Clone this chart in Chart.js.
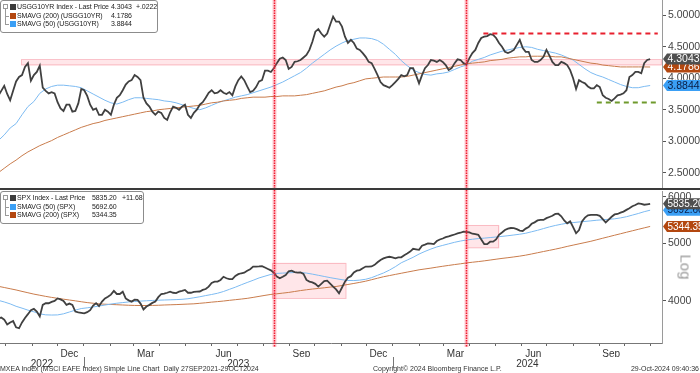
<!DOCTYPE html>
<html>
<head>
    <title>USGG10YR / SPX</title>
    <meta charset="utf-8">
    <script src="https://cdn.jsdelivr.net/npm/chart.js@4.4.0/dist/chart.umd.min.js"></script>
    <style>
        body { margin: 0; background: #fff; font-family: "Liberation Sans", Arial, sans-serif; }
        #wrap { position: relative; width: 700px; height: 373px; overflow: hidden; }
        #topBox { position: absolute; left: 0; top: 0; width: 700px; height: 188px; }
        #botBox { position: absolute; left: 0; top: 190px; width: 700px; height: 183px; }
        .sep { position: absolute; left: 0; top: 188px; width: 700px; height: 2px; background: #3a3a3a; }
        .legend { position: absolute; left: 0; background: #fff; border: 1px solid #8c8c8c; border-radius: 3px;
                  font-size: 7px; color: #222; letter-spacing: -0.1px; }
        .legend span { position: absolute; white-space: nowrap; line-height: 8px; }
        .legend .sw { width: 6px; height: 6px; left: 9px; }
        .tree { position: absolute; border-color: #999; border-style: solid; }
        .foot { position: absolute; top: 365px; font-size: 7px; color: #333; white-space: nowrap; }
        #logLbl { position: absolute; left: 686px; top: 267px; font-size: 15px; color: #9a9a9a;
                  transform: translate(-50%, -50%) rotate(90deg); }
    </style>
</head>
<body>
<div id="wrap">
    <div id="topBox"><canvas id="topChart"></canvas></div>
    <div id="botBox"><canvas id="botChart"></canvas></div>
    <div class="sep"></div>
    <div class="legend" id="topLegend" style="top:0;width:156px;height:31px"></div>
    <div class="legend" id="botLegend" style="top:191px;width:142px;height:31px"></div>
    <div id="logLbl">Log</div>
    <div class="foot" style="left:0">MXEA Index (MSCI EAFE Index) Simple Line Chart&nbsp; Daily 27SEP2021-29OCT2024</div>
    <div class="foot" style="left:373px">Copyright© 2024 Bloomberg Finance L.P.</div>
    <div class="foot" style="right:1px">29-Oct-2024 09:40:36</div>
</div>
<script>
    // prices sampled every half week, moving averages every week, both from 22 Sep 2022
    const firstDate = '2022-09-22';
    const priceStep = 3.5, avgStep = 7;

    const usgg = [3.72, 3.80, 3.88, 3.75, 3.65, 3.80, 3.95, 4.02, 4.05, 4.18,
        4.24, 3.96, 4.05, 4.10, 4.20, 3.85, 3.80, 3.76, 3.78, 3.76,
        3.62, 3.52, 3.48, 3.58, 3.58, 3.47, 3.48, 3.60, 3.83, 3.81,
        3.72, 3.58, 3.50, 3.52, 3.42, 3.42, 3.50, 3.47, 3.42, 3.58,
        3.69, 3.73, 3.81, 3.90, 3.95, 3.97, 4.05, 4.02, 3.97, 3.69,
        3.60, 3.55, 3.47, 3.42, 3.47, 3.45, 3.37, 3.34, 3.46, 3.55,
        3.53, 3.50, 3.55, 3.58, 3.42, 3.37, 3.45, 3.50, 3.58, 3.62,
        3.69, 3.77, 3.81, 3.76, 3.77, 3.81, 3.77, 3.75, 3.78, 3.73,
        3.87, 3.97, 4.03, 3.97, 3.87, 3.78, 3.80, 3.86, 3.95, 3.97,
        4.12, 4.12, 4.10, 4.16, 4.24, 4.31, 4.33, 4.29, 4.15, 4.18,
        4.26, 4.27, 4.29, 4.33, 4.37, 4.45, 4.58, 4.74, 4.78, 4.71,
        4.66, 4.71, 4.85, 4.98, 4.90, 4.90, 4.82, 4.66, 4.56, 4.61,
        4.56, 4.47, 4.45, 4.40, 4.34, 4.26, 4.24, 4.15, 4.05, 3.94,
        3.89, 3.87, 3.85, 3.89, 3.94, 3.99, 4.05, 4.03, 4.05, 4.16,
        4.16, 4.05, 3.92, 4.05, 4.16, 4.21, 4.29, 4.28, 4.26, 4.29,
        4.26, 4.21, 4.13, 4.16, 4.24, 4.30, 4.29, 4.24, 4.22, 4.32,
        4.40, 4.45, 4.56, 4.64, 4.66, 4.67, 4.70, 4.69, 4.64, 4.56,
        4.50, 4.42, 4.40, 4.42, 4.45, 4.53, 4.61, 4.48, 4.42, 4.42,
        4.29, 4.26, 4.26, 4.29, 4.34, 4.45, 4.36, 4.26, 4.21, 4.21,
        4.26, 4.24, 4.21, 4.13, 4.00, 3.83, 3.97, 3.94, 3.92, 3.87,
        3.84, 3.84, 3.89, 3.86, 3.73, 3.69, 3.67, 3.64, 3.68, 3.73,
        3.74, 3.76, 3.81, 4.02, 4.05, 4.10, 4.10, 4.08, 4.24, 4.29,
        4.3043];
    const usggMa200 = [2.50, 2.57, 2.64, 2.70, 2.77, 2.83, 2.88, 2.93, 2.97, 3.01,
        3.06, 3.10, 3.14, 3.18, 3.22, 3.25, 3.28, 3.30, 3.33, 3.35,
        3.37, 3.39, 3.41, 3.43, 3.45, 3.47, 3.48, 3.50, 3.51, 3.52,
        3.53, 3.54, 3.55, 3.56, 3.57, 3.59, 3.61, 3.62, 3.64, 3.65,
        3.66, 3.68, 3.69, 3.70, 3.70, 3.70, 3.71, 3.71, 3.72, 3.72,
        3.72, 3.73, 3.74, 3.76, 3.78, 3.80, 3.83, 3.86, 3.88, 3.91,
        3.93, 3.96, 3.99, 4.00, 4.01, 4.02, 4.02, 4.02, 4.02, 4.03,
        4.05, 4.07, 4.09, 4.11, 4.13, 4.15, 4.17, 4.19, 4.21, 4.23,
        4.24, 4.25, 4.26, 4.28, 4.29, 4.30, 4.32, 4.33, 4.34, 4.34,
        4.35, 4.35, 4.35, 4.35, 4.34, 4.34, 4.32, 4.30, 4.28, 4.26,
        4.24, 4.23, 4.21, 4.20, 4.19, 4.18, 4.18, 4.18, 4.18, 4.18,
        4.1786];
    const usggMa50 = [3.01, 3.10, 3.21, 3.28, 3.42, 3.55, 3.63, 3.76, 3.83, 3.87,
        3.89, 3.89, 3.88, 3.87, 3.85, 3.80, 3.75, 3.70, 3.65, 3.61,
        3.59, 3.62, 3.66, 3.69, 3.69, 3.68, 3.67, 3.66, 3.64, 3.63,
        3.61, 3.58, 3.55, 3.52, 3.50, 3.53, 3.57, 3.61, 3.64, 3.67,
        3.70, 3.72, 3.74, 3.77, 3.80, 3.83, 3.86, 3.90, 3.94, 3.99,
        4.04, 4.09, 4.16, 4.24, 4.31, 4.38, 4.45, 4.51, 4.56, 4.60,
        4.62, 4.64, 4.64, 4.63, 4.60, 4.54, 4.46, 4.38, 4.28, 4.20,
        4.13, 4.09, 4.06, 4.05, 4.07, 4.08, 4.10, 4.14, 4.18, 4.21,
        4.27, 4.30, 4.33, 4.37, 4.40, 4.43, 4.45, 4.47, 4.49, 4.50,
        4.49, 4.46, 4.44, 4.42, 4.40, 4.37, 4.33, 4.29, 4.22, 4.15,
        4.09, 4.05, 4.02, 3.98, 3.94, 3.90, 3.87, 3.85, 3.85, 3.87,
        3.8844];

    const spx = [3740, 3750, 3720, 3650, 3680, 3700, 3610, 3597, 3680, 3745,
        3800, 3860, 3880, 3838, 3765, 3940, 3965, 3965, 3985, 4000,
        4040, 4025, 4000, 3940, 3960, 3940, 3838, 3825, 3820, 3813,
        3830, 3860, 3930, 3965, 3920, 3990, 4040, 4066, 4100, 4160,
        4110, 4110, 4147, 4040, 4010, 3990, 4020, 4016, 3960, 3870,
        3915, 3940, 3970, 3990, 4060, 4110, 4115, 4130, 4147, 4130,
        4125, 4147, 4160, 4175, 4130, 4130, 4145, 4147, 4150, 4175,
        4190, 4230, 4290, 4312, 4312, 4341, 4395, 4369, 4355, 4355,
        4410, 4440, 4455, 4465, 4500, 4526, 4573, 4573, 4575, 4580,
        4555, 4530, 4505, 4465, 4400, 4369, 4395, 4426, 4490, 4500,
        4475, 4465, 4470, 4445, 4341, 4312, 4300, 4275, 4230, 4275,
        4320, 4329, 4280, 4230, 4185, 4120, 4215, 4312, 4380, 4405,
        4470, 4500, 4510, 4543, 4573, 4573, 4575, 4603, 4650, 4692,
        4720, 4740, 4750, 4740, 4720, 4740, 4740, 4780, 4810, 4846,
        4900, 4890, 4880, 4960, 4980, 5004, 5000, 4990, 5050, 5080,
        5100, 5125, 5140, 5160, 5180, 5200, 5215, 5239, 5230, 5222,
        5195, 5185, 5172, 5080, 4990, 4990, 5037, 5037, 5080, 5172,
        5220, 5272, 5300, 5312, 5310, 5290, 5260, 5250, 5300, 5330,
        5400, 5430, 5470, 5481, 5481, 5520, 5545, 5570, 5610, 5615,
        5560, 5470, 5410, 5450, 5330, 5205, 5270, 5450, 5530, 5580,
        5589, 5589, 5590, 5570, 5500, 5430, 5490, 5550, 5600, 5610,
        5640, 5662, 5700, 5736, 5780, 5810, 5845, 5835, 5815, 5825,
        5835.20];
    const spxMa50 = [4010, 3985, 3955, 3918, 3890, 3860, 3835, 3805, 3790, 3787,
        3789, 3805, 3832, 3860, 3884, 3895, 3908, 3922, 3937, 3952,
        3965, 3975, 3985, 3992, 3998, 4003, 4008, 4012, 4015, 4018,
        4021, 4026, 4035, 4050, 4066, 4085, 4102, 4122, 4150, 4185,
        4220, 4260, 4298, 4335, 4375, 4405, 4435, 4452, 4458, 4463,
        4468, 4470, 4458, 4440, 4420, 4400, 4380, 4362, 4345, 4332,
        4330, 4338, 4352, 4380, 4420, 4460, 4510, 4570, 4640, 4690,
        4740, 4800, 4850, 4895, 4935, 4965, 4995, 5025, 5050, 5070,
        5085, 5098, 5107, 5118, 5130, 5142, 5155, 5170, 5185, 5205,
        5235, 5265, 5300, 5335, 5365, 5390, 5412, 5425, 5438, 5450,
        5462, 5475, 5485, 5495, 5505, 5525, 5550, 5585, 5620, 5660,
        5692.60];
    const spxMa200 = [4235, 4215, 4195, 4175, 4152, 4130, 4108, 4090, 4072, 4056,
        4042, 4028, 4015, 4002, 3988, 3975, 3965, 3955, 3950, 3946,
        3942, 3938, 3934, 3931, 3930, 3930, 3931, 3934, 3938, 3941,
        3944, 3948, 3952, 3956, 3964, 3972, 3982, 3990, 3999, 4010,
        4020, 4030, 4041, 4056, 4072, 4088, 4103, 4113, 4124, 4135,
        4150, 4165, 4178, 4190, 4200, 4210, 4222, 4232, 4248, 4265,
        4282, 4300, 4320, 4345, 4370, 4395, 4415, 4435, 4455, 4475,
        4495, 4515, 4530, 4545, 4562, 4578, 4593, 4608, 4622, 4638,
        4650, 4662, 4675, 4690, 4705, 4720, 4733, 4747, 4762, 4780,
        4802, 4825, 4848, 4870, 4893, 4918, 4945, 4970, 4995, 5020,
        5045, 5075, 5105, 5135, 5165, 5195, 5225, 5255, 5285, 5315,
        5344.35];

    // axis ticks
    const topTicks = [2.5, 3.0, 3.5, 4.0, 4.5, 5.0];
    const botTicks = [4000, 5000, 6000];
    const labelMonths = ['2022-12', '2023-03', '2023-06', '2023-09', '2023-12', '2024-03', '2024-06', '2024-09'];
    const monthNames = ['Dec', 'Mar', 'Jun', 'Sep', 'Dec', 'Mar', 'Jun', 'Sep'];
    const yearNames = ['2022', '2023', '2024'];
    const viewFrom = '2022-09-24', viewTo = '2024-11-14';

    // annotations
    const markerDates = ['2023-08-14', '2024-03-28'];
    const topBand = { from: '2022-10-19', to: '2024-11-14', lo: 4.20, hi: 4.30 };
    const botBoxes = [
        { from: '2023-08-11', to: '2023-11-07', lo: 4036, hi: 4642 },
        { from: '2024-03-28', to: '2024-05-06', lo: 4910, hi: 5375 }
    ];
    const topHLines = [
        { from: '2024-04-17', to: '2024-11-09', value: 4.724, color: '#e8202e' },
        { from: '2024-08-29', to: '2024-11-09', value: 3.618, color: '#6f9a2c' }
    ];

    const C_PRICE = '#404040', C_200 = '#c97c4c', C_50 = '#7dbbf2';
    const TAG_PRICE = '#4f4f4f', TAG_200 = '#b3470f', TAG_50 = '#3a9ff5';

    const DAY0 = Date.UTC(2023, 0, 1);
    const toDay = (s) => { const p = s.split('-').map(Number); return (Date.UTC(p[0], p[1] - 1, p[2] || 1) - DAY0) / 864e5; };
    const xMin = toDay(viewFrom), xMax = toDay(viewTo);
    const pts = (arr, step) => arr.map((v, i) => ({ x: toDay(firstDate) + step * i, y: v }));
    const last = (arr) => arr[arr.length - 1];

    Chart.defaults.font.family = '"Liberation Sans", Arial, sans-serif';
    Chart.defaults.animation = false;

    function drawTag(ctx, x, y, text, bg, fg, size) {
        const h = 11;
        ctx.fillStyle = bg;
        ctx.beginPath();
        ctx.moveTo(x, y);
        ctx.lineTo(x + 4, y - h / 2);
        ctx.lineTo(700, y - h / 2);
        ctx.lineTo(700, y + h / 2);
        ctx.lineTo(x + 4, y + h / 2);
        ctx.closePath();
        ctx.fill();
        ctx.fillStyle = fg;
        ctx.font = size + 'px "Liberation Sans"';
        ctx.textBaseline = 'middle';
        ctx.textAlign = 'left';
        ctx.fillText(text, x + 4.5, y + 0.5);
    }

    const marks = {
        id: 'marks',
        beforeDatasetsDraw(chart, args, o) {
            const { ctx, chartArea: a, scales: { x, y } } = chart;
            ctx.save();
            ctx.beginPath(); ctx.rect(a.left, a.top, a.width, a.height); ctx.clip();
            (o.boxes || []).forEach(b => {
                const x0 = x.getPixelForValue(toDay(b.from)), x1 = x.getPixelForValue(toDay(b.to));
                const y0 = y.getPixelForValue(b.hi), y1 = y.getPixelForValue(b.lo);
                ctx.fillStyle = 'rgba(255, 105, 125, 0.17)';
                ctx.fillRect(x0, y0, x1 - x0, y1 - y0);
                ctx.strokeStyle = 'rgba(240, 90, 110, 0.30)';
                ctx.lineWidth = 1;
                ctx.strokeRect(Math.round(x0) + 0.5, Math.round(y0) + 0.5, x1 - x0 - 1, y1 - y0 - 1);
            });
            ctx.restore();
        },
        afterDatasetsDraw(chart, args, o) {
            const { ctx, chartArea: a, scales: { x, y } } = chart;
            ctx.save();
            (o.hlines || []).forEach(h => {
                const yy = Math.round(y.getPixelForValue(h.value)) + 0.5;
                ctx.strokeStyle = h.color;
                ctx.lineWidth = 2;
                ctx.setLineDash([5, 4]);
                ctx.beginPath();
                ctx.moveTo(x.getPixelForValue(toDay(h.from)), yy);
                ctx.lineTo(x.getPixelForValue(toDay(h.to)), yy);
                ctx.stroke();
            });
            markerDates.forEach(d => {
                const xx = Math.round(x.getPixelForValue(toDay(d))) + 0.5;
                const y1 = a.bottom + (o.vExtra || 0);
                ctx.setLineDash([]);
                ctx.strokeStyle = 'rgba(255, 80, 100, 0.30)';
                ctx.lineWidth = 4;
                ctx.beginPath(); ctx.moveTo(xx, 0); ctx.lineTo(xx, y1); ctx.stroke();
                ctx.strokeStyle = '#ee1c32';
                ctx.lineWidth = 1.5;
                ctx.setLineDash([1.5, 1]);
                ctx.beginPath(); ctx.moveTo(xx, 0); ctx.lineTo(xx, y1); ctx.stroke();
            });
            ctx.restore();
        },
        afterDraw(chart, args, o) {
            const { ctx, chartArea: a, scales } = chart;
            ctx.save();
            if (o.yearMarks) {
                const s = scales.x2;
                ctx.strokeStyle = '#777';
                ctx.lineWidth = 1;
                o.yearMarks.forEach(d => {
                    const xx = Math.round(scales.x.getPixelForValue(toDay(d))) + 0.5;
                    ctx.beginPath(); ctx.moveTo(xx, s.top); ctx.lineTo(xx, s.bottom); ctx.stroke();
                });
            }
            (o.tags || []).forEach(t => {
                drawTag(ctx, a.right + 1, scales.y.getPixelForValue(t.value), t.text, t.bg, t.fg, o.tagSize || 10.5);
            });
            ctx.restore();
        }
    };

    const lineSet = (label, data, step, color, width) => ({
        label, data: pts(data, step), borderColor: color, borderWidth: width,
        pointRadius: 0, tension: 0, fill: false
    });

    const yRight = (extra) => Object.assign({
        position: 'right',
        afterFit: s => { s.width = 38; s.paddingTop = 0; s.paddingBottom = 0; },
        grid: { drawOnChartArea: false, drawTicks: true, tickLength: 4, tickColor: '#555' },
        border: { display: true, color: '#9a9a9a' }
    }, extra);

    new Chart(document.getElementById('topChart'), {
        type: 'line',
        data: {
            datasets: [
                lineSet('USGG10YR Index - Last Price', usgg, priceStep, C_PRICE, 1.8),
                lineSet('SMAVG (200) (USGG10YR)', usggMa200, avgStep, C_200, 1),
                lineSet('SMAVG (50) (USGG10YR)', usggMa50, avgStep, C_50, 1)
            ]
        },
        options: {
            responsive: true, maintainAspectRatio: false,
            layout: { padding: 0 },
            plugins: {
                legend: { display: false }, tooltip: { enabled: false },
                marks: {
                    boxes: [topBand], hlines: topHLines,
                    tags: [
                        { value: last(usggMa50), text: last(usggMa50).toFixed(4), bg: TAG_50, fg: '#0b1d44' },
                        { value: last(usggMa200), text: last(usggMa200).toFixed(4), bg: TAG_200, fg: '#fff' },
                        { value: last(usgg), text: last(usgg).toFixed(4), bg: TAG_PRICE, fg: '#fff' }
                    ]
                }
            },
            scales: {
                x: { type: 'linear', min: xMin, max: xMax, display: false },
                y: yRight({
                    type: 'linear', min: 2.257, max: 5.243,
                    afterBuildTicks: s => { s.ticks = topTicks.map(v => ({ value: v })); },
                    ticks: { callback: v => Number(v).toFixed(4), color: '#444', font: { size: 10.5 }, padding: 2 }
                })
            }
        },
        plugins: [marks]
    });

    // month-start tick marks and mid-month labels
    const monthTicks = [];
    for (let d = new Date(Date.UTC(2022, 9, 1)); d <= new Date(Date.UTC(2024, 10, 1)); d.setUTCMonth(d.getUTCMonth() + 1)) {
        monthTicks.push({ value: (d - DAY0) / 864e5, label: '' });
    }
    labelMonths.forEach((m, i) => monthTicks.push({ value: toDay(m + '-15'), label: monthNames[i] }));
    monthTicks.sort((a, b) => a.value - b.value);
    const yearTicks = yearNames.map(y => {
        const a = Math.max(xMin, toDay(y + '-01-01')), b = Math.min(xMax, toDay((+y + 1) + '-01-01'));
        return { value: (a + b) / 2, label: y };
    });

    new Chart(document.getElementById('botChart'), {
        type: 'line',
        data: {
            datasets: [
                lineSet('SPX Index - Last Price', spx, priceStep, C_PRICE, 1.8),
                lineSet('SMAVG (50) (SPX)', spxMa50, avgStep, C_50, 1),
                lineSet('SMAVG (200) (SPX)', spxMa200, avgStep, C_200, 1)
            ]
        },
        options: {
            responsive: true, maintainAspectRatio: false,
            layout: { padding: { top: 1, bottom: 5, left: 0, right: 0 } },
            plugins: {
                legend: { display: false }, tooltip: { enabled: false },
                marks: {
                    boxes: botBoxes, vExtra: 4, yearMarks: ['2023-01-01', '2024-01-01'], tagSize: 10,
                    tags: [
                        { value: last(spxMa50), text: last(spxMa50).toFixed(2), bg: TAG_50, fg: '#0b1d44' },
                        { value: last(spxMa200), text: last(spxMa200).toFixed(2), bg: TAG_200, fg: '#fff' },
                        { value: last(spx), text: last(spx).toFixed(2), bg: TAG_PRICE, fg: '#fff' }
                    ]
                }
            },
            scales: {
                x: {
                    type: 'linear', min: xMin, max: xMax, position: 'bottom',
                    afterBuildTicks: s => { s.ticks = monthTicks.map(t => ({ value: t.value })); },
                    afterFit: s => { s.height = 14; s.paddingLeft = 0; s.paddingRight = 0; },
                    ticks: {
                        autoSkip: false, maxRotation: 0, padding: 2, color: '#333', font: { size: 10 },
                        callback: (v) => { const t = monthTicks.find(m => m.value === v); return t ? t.label : ''; }
                    },
                    grid: {
                        drawOnChartArea: false, drawTicks: true, tickLength: 3,
                        tickColor: c => (c.tick && c.tick.label) ? 'rgba(0,0,0,0)' : '#666'
                    },
                    border: { display: true, color: '#777' }
                },
                x2: {
                    type: 'linear', min: xMin, max: xMax, position: 'bottom',
                    afterBuildTicks: s => { s.ticks = yearTicks.map(t => ({ value: t.value })); },
                    afterFit: s => { s.height = 11; s.paddingLeft = 0; s.paddingRight = 0; },
                    ticks: {
                        autoSkip: false, maxRotation: 0, padding: 1, color: '#333', font: { size: 10 },
                        callback: (v) => { const t = yearTicks.find(m => m.value === v); return t ? t.label : ''; }
                    },
                    grid: { display: false, drawTicks: false },
                    border: { display: false }
                },
                y: yRight({
                    type: 'logarithmic', min: 3397, max: 6134,
                    afterBuildTicks: s => { s.ticks = botTicks.map(v => ({ value: v })); },
                    ticks: { callback: v => String(v), color: '#444', font: { size: 10.5 }, padding: 2 }
                })
            }
        },
        plugins: [marks]
    });

    // legends
    const topRows = [
        { color: '#3c3c3c', name: 'USGG10YR Index - Last Price', value: last(usgg).toFixed(4), change: '+.0222' },
        { color: TAG_200, name: 'SMAVG (200) (USGG10YR)', value: last(usggMa200).toFixed(4) },
        { color: TAG_50, name: 'SMAVG (50) (USGG10YR)', value: last(usggMa50).toFixed(4) }
    ];
    const botRows = [
        { color: '#3c3c3c', name: 'SPX Index - Last Price', value: last(spx).toFixed(2), change: '+11.68' },
        { color: TAG_50, name: 'SMAVG (50) (SPX)', value: last(spxMa50).toFixed(2) },
        { color: TAG_200, name: 'SMAVG (200) (SPX)', value: last(spxMa200).toFixed(2) }
    ];

    function buildLegend(id, rows, valX, chgX) {
        const el = document.getElementById(id);
        const tops = [2, 11, 19];
        let html = '<div class="tree" style="left:2px;top:3px;width:3px;height:3px;border-width:1px"></div>' +
            '<div class="tree" style="left:4px;top:8px;width:3px;height:7px;border-width:0 0 1px 1px"></div>' +
            '<div class="tree" style="left:4px;top:15px;width:3px;height:8px;border-width:0 0 1px 1px"></div>';
        rows.forEach((r, i) => {
            html += `<span class="sw" style="top:${tops[i] + 1}px;background:${r.color}"></span>` +
                `<span style="left:16px;top:${tops[i]}px">${r.name}</span>` +
                `<span style="left:${valX}px;top:${tops[i]}px">${r.value}</span>`;
            if (r.change) html += `<span style="left:${chgX}px;top:${tops[i]}px">${r.change}</span>`;
        });
        el.innerHTML = html;
    }
    buildLegend('topLegend', topRows, 110, 135);
    buildLegend('botLegend', botRows, 91, 121);
</script>
</body>
</html>
